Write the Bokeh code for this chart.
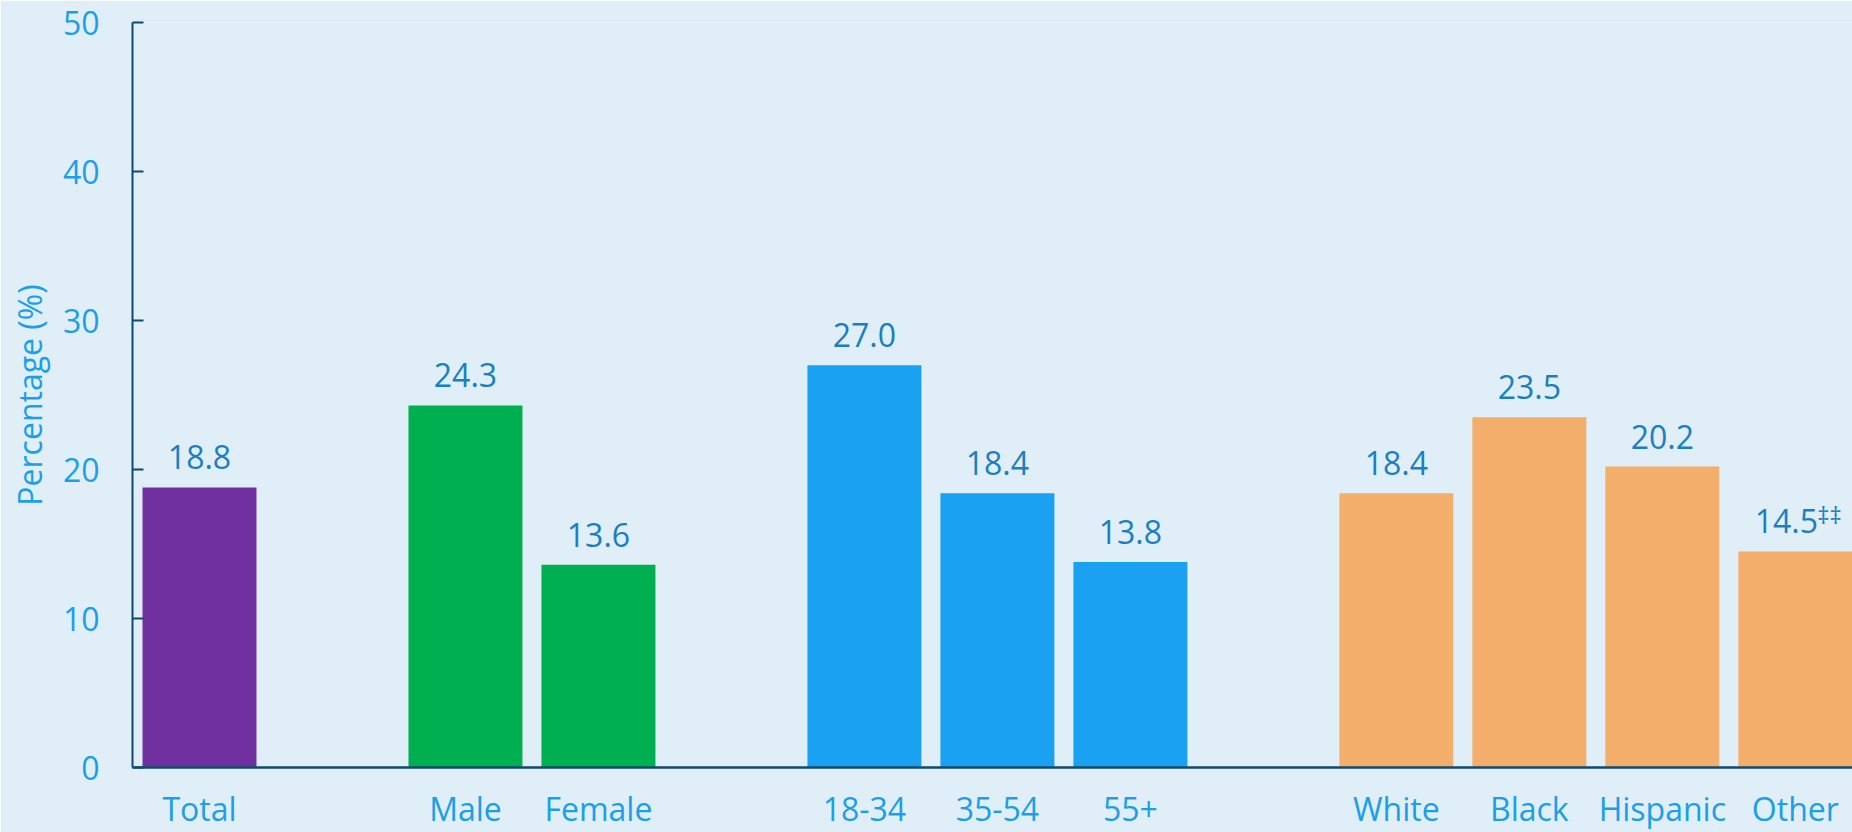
from bokeh.plotting import figure
from bokeh.models import ColumnDataSource, Range1d, FixedTicker
from bokeh.core.properties import value
from bokeh.embed import file_html
from bokeh.resources import INLINE

# ---- data ----
categories = ["Total", "Male", "Female", "18-34", "35-54", "55+",
              "White", "Black", "Hispanic", "Other"]
groups = ["Total", "Sex", "Sex", "Age", "Age", "Age",
          "Race", "Race", "Race", "Race"]
percentages = [18.8, 24.3, 13.6, 27.0, 18.4, 13.8, 18.4, 23.5, 20.2, 14.5]
footnotes = ["", "", "", "", "", "", "", "", "", "\u2021\u2021"]
y_ticks = [0, 10, 20, 30, 40, 50]
group_colors = {"Total": "#7030a0", "Sex": "#00b050",
                "Age": "#1ba1f2", "Race": "#f4ae6c"}

# ---- layout helpers (slot positions with one empty slot between groups) ----
xs = []
pos = 0
prev = None
for g in groups:
    if prev is not None:
        pos += 1 if g == prev else 2
    xs.append(pos)
    prev = g

BG = "#e0eef7"
AXIS = "#0e4a6f"
LIGHT = "#1a9fe8"
VALUE = "#1a7fc2"
FONT = "Open Sans"

src = ColumnDataSource(dict(
    x=xs,
    top=percentages,
    color=[group_colors[g] for g in groups],
    label=[f"{v:.1f}" for v in percentages],
    note=footnotes,
    label_dx=[-9 if n else 0 for n in footnotes],
))

p = figure(width=1852, height=832,
           x_range=Range1d(-0.5038, 12.43), y_range=Range1d(0, 50),
           toolbar_location=None, output_backend="svg",
           background_fill_color=BG, border_fill_color=BG,
           outline_line_color=None, min_border=0,
           min_border_left=132, min_border_right=0,
           min_border_top=22, min_border_bottom=65)

p.xgrid.visible = False
p.ygrid.visible = False

p.vbar(x="x", top="top", width=0.857, bottom=0, color="color",
       line_color=None, source=src)

# value labels
p.text(x="x", y="top", text="label", source=src,
       x_offset="label_dx", y_offset=-30,
       text_align="center", text_baseline="alphabetic",
       text_font=value(FONT), text_font_size="32px", text_color=VALUE)
# footnote marks
p.text(x="x", y="top", text="note", source=src,
       x_offset=22, y_offset=-37,
       text_align="left", text_baseline="alphabetic",
       text_font=value(FONT), text_font_size="24px", text_color=VALUE)

# x axis: line + category labels, no ticks
xa = p.xaxis[0]
xa.ticker = FixedTicker(ticks=xs)
xa.major_label_overrides = {x: c for x, c in zip(xs, categories)}
xa.major_label_text_font = FONT
xa.major_label_text_font_size = "32px"
xa.major_label_text_color = LIGHT
xa.major_label_standoff = 19
xa.axis_line_color = AXIS
xa.axis_line_width = 2.5
xa.major_tick_line_color = None
xa.major_tick_in = 0
xa.major_tick_out = 0
xa.minor_tick_line_color = None

# y axis
ya = p.yaxis[0]
ya.ticker = FixedTicker(ticks=y_ticks)
ya.axis_label = "Percentage (%)"
ya.axis_label_text_font = FONT
ya.axis_label_text_font_size = "32px"
ya.axis_label_text_font_style = "normal"
ya.axis_label_text_color = LIGHT
ya.axis_label_standoff = 9
ya.major_label_text_font = FONT
ya.major_label_text_font_size = "32px"
ya.major_label_text_color = LIGHT
ya.major_label_standoff = 33
ya.axis_line_color = AXIS
ya.axis_line_width = 2
ya.major_tick_line_color = AXIS
ya.major_tick_line_width = 2
ya.major_tick_in = 11
ya.major_tick_out = 0
ya.minor_tick_line_color = None

open("out.html", "w").write(file_html(p, INLINE))
